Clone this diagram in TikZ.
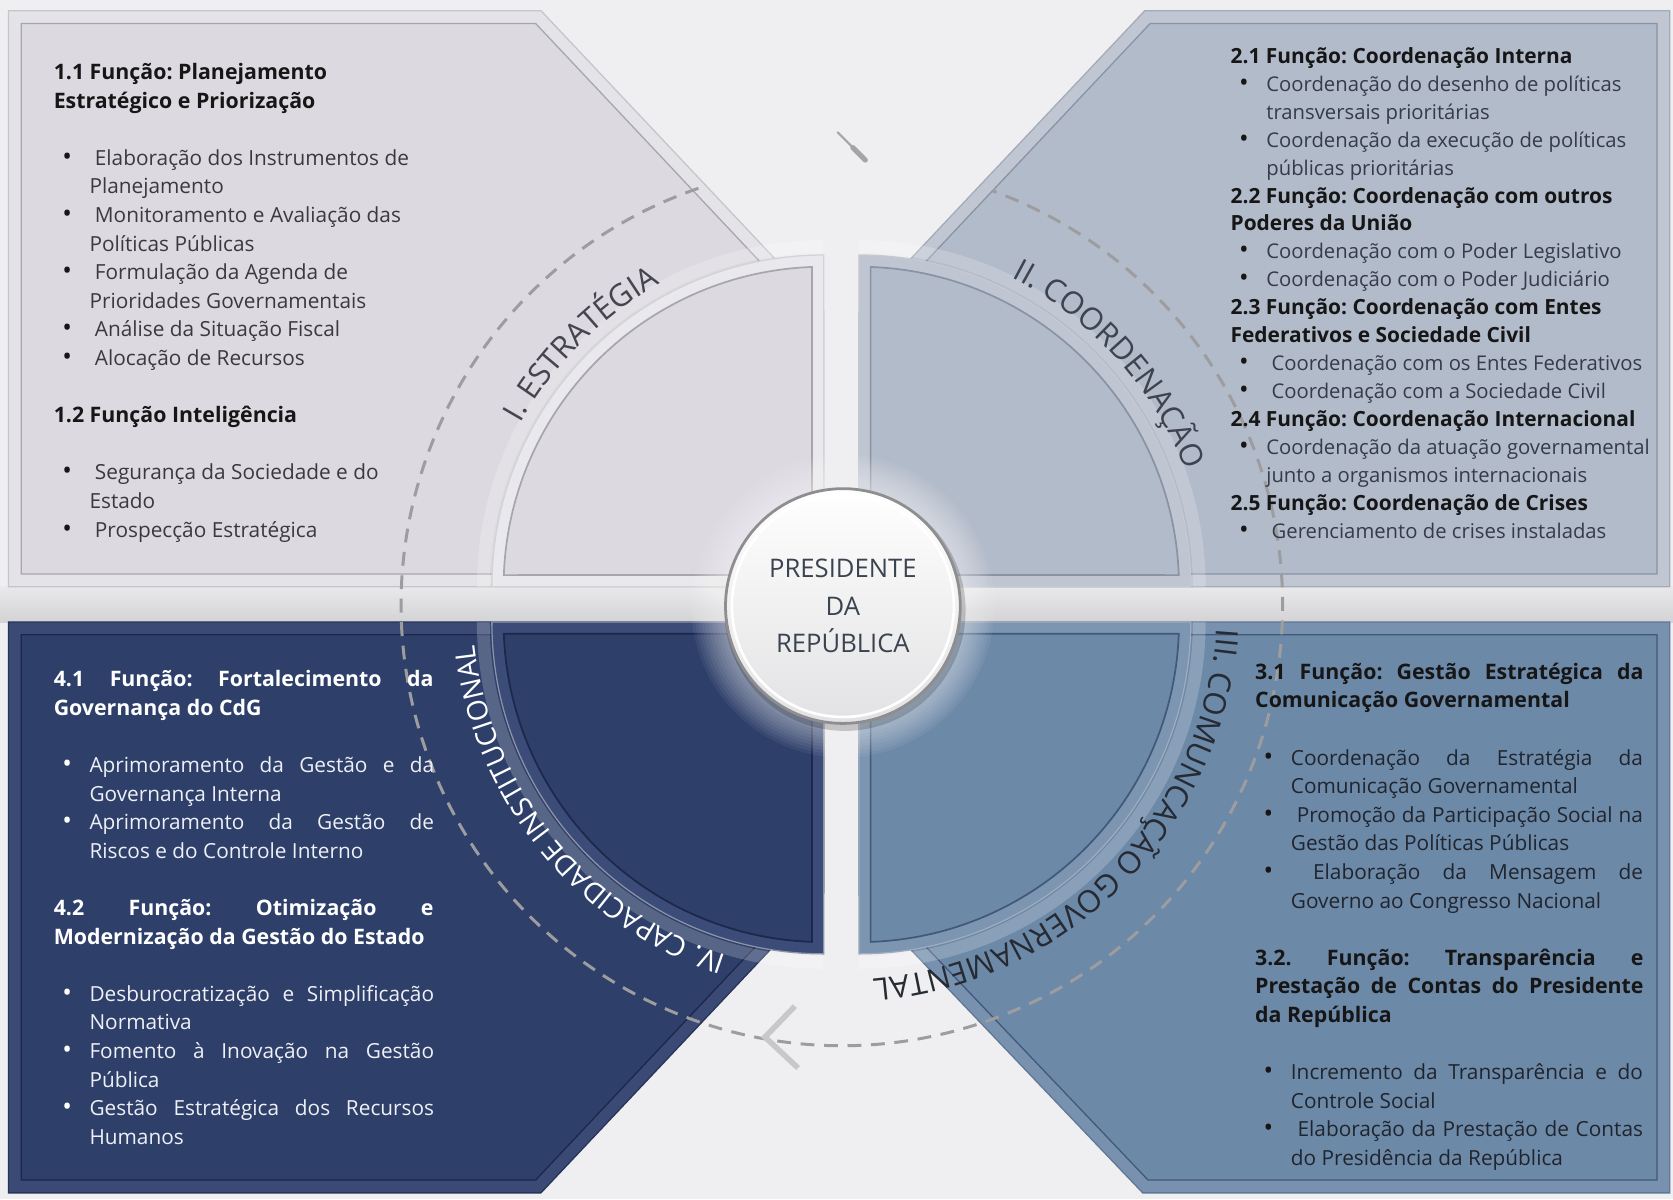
\documentclass[tikz,border=0pt]{standalone}
\usepackage{fontspec}
\setmainfont{Open Sans}
\usetikzlibrary{calc,decorations.text}
\frenchspacing

\definecolor{fundo}{HTML}{EFEEF0}
\definecolor{faixaA}{HTML}{E9E9EB}
\definecolor{faixaB}{HTML}{D3D3D6}
\definecolor{molduraTL}{HTML}{E4E3E7}
\definecolor{contornoTL}{HTML}{C6C5CA}
\definecolor{fundoTL}{HTML}{DCD9E0}
\definecolor{linhaTL}{HTML}{A8A6AD}
\definecolor{anelTL}{HTML}{E9E8EC}
\definecolor{molduraTR}{HTML}{C0C7D3}
\definecolor{contornoTR}{HTML}{A3ABBA}
\definecolor{fundoTR}{HTML}{B2BBCA}
\definecolor{linhaTR}{HTML}{8A93A4}
\definecolor{anelTR}{HTML}{BFC6D2}
\definecolor{molduraBR}{HTML}{7891AE}
\definecolor{contornoBR}{HTML}{5E7896}
\definecolor{fundoBR}{HTML}{6D89A8}
\definecolor{linhaBR}{HTML}{41587A}
\definecolor{anelBR}{HTML}{7C95B1}
\definecolor{molduraBL}{HTML}{3A4A74}
\definecolor{contornoBL}{HTML}{26345A}
\definecolor{fundoBL}{HTML}{2E3F6A}
\definecolor{linhaBL}{HTML}{1C274A}
\definecolor{anelBL}{HTML}{3B4C78}
\definecolor{traco}{HTML}{9D9DA0}
\definecolor{seta}{HTML}{C8C8CA}
\definecolor{risco}{HTML}{A5A5A8}
\definecolor{titulo}{HTML}{161616}
\definecolor{textoTL}{HTML}{3A3A3E}
\definecolor{textoTR}{HTML}{363C47}
\definecolor{textoBR}{HTML}{20252D}
\definecolor{textoBL}{HTML}{EEF0F5}
\definecolor{rotuloI}{HTML}{45454D}
\definecolor{rotuloII}{HTML}{3E434E}
\definecolor{rotuloIII}{HTML}{252A33}
\definecolor{aro}{HTML}{8E8E90}
\definecolor{botao}{HTML}{E2E2E4}
\definecolor{textoMeio}{HTML}{3B4350}

\newcommand{\tamtit}{10}
\newcommand{\cormarca}{titulo}
\newcommand{\marca}{\makebox[16.75pt][l]{\hspace{4pt}{\fontsize{12}{0}\selectfont\color{\cormarca}\textbullet}}}
\newcommand{\recuo}{\hspace*{16.75pt}}
\newcommand{\just}[2]{\makebox[#1][s]{#2}}
\newcommand{\tit}[1]{{\fontsize{\tamtit}{\baselineskip}\selectfont\bfseries\color{titulo}#1}}
\newcommand{\titb}[1]{{\fontsize{\tamtit}{\baselineskip}\selectfont\bfseries\color{white}#1}}
\newcommand{\curvo}{\fontsize{14.5}{14.5}\selectfont}

\begin{document}
\begin{tikzpicture}[x=0.5pt, y=0.5pt,
    painel/.style={line width=0.6pt},
    tracejado/.style={draw=traco, line width=1.4pt, dash pattern=on 6.5pt off 4.5pt},
    corpo/.style={anchor=north west, inner sep=0pt, align=left, font=\fontsize{9.75}{13.4}\selectfont},
    curva/.style={decorate, decoration={text along path, text align=center, text color=#1}}
  ]

% background, also fixes the margins
\fill[fundo] (-789,-557) rectangle (779,567);
\useasboundingbox (-789,-557) rectangle (779,567);

% gap between upper and lower row
\shade[top color=faixaA, bottom color=faixaB] (-789,17) rectangle (779,-16);

% the four panels (frame, then inner face)
\filldraw[fill=molduraTL, draw=contornoTL, painel] (-781,557) -- (-282,557) -- (-17,276) -- (-17,17) -- (-781,17) -- cycle;
\filldraw[fill=fundoTL, draw=linhaTL, painel] (-769,545) -- (-287,545) -- (-29,271) -- (-29,29) -- (-769,29) -- cycle;

\filldraw[fill=molduraTR, draw=contornoTR, painel] (284,557) -- (776,557) -- (776,17) -- (16,17) -- (16,273) -- cycle;
\filldraw[fill=fundoTR, draw=linhaTR, painel] (289,545) -- (764,545) -- (764,29) -- (28,29) -- (28,268) -- cycle;

\filldraw[fill=molduraBR, draw=contornoBR, painel] (16,-16) -- (776,-16) -- (776,-551) -- (282,-551) -- (16,-272) -- cycle;
\filldraw[fill=fundoBR, draw=linhaBR, painel] (28,-28) -- (764,-28) -- (764,-539) -- (287,-539) -- (28,-267) -- cycle;

\filldraw[fill=molduraBL, draw=contornoBL, painel] (-781,-16) -- (-17,-16) -- (-17,-270) -- (-282,-551) -- (-781,-551) -- cycle;
\filldraw[fill=fundoBL, draw=linhaBL, painel] (-769,-28) -- (-29,-28) -- (-29,-265) -- (-287,-539) -- (-769,-539) -- cycle;

% quarter discs round the centre
\coordinate (cTL) at (-17,17);
\coordinate (cTR) at (16,17);
\coordinate (cBR) at (16,-16);
\coordinate (cBL) at (-17,-16);
\foreach \centro/\ang/\anel/\cor/\borda in {cTL/180/anelTL/fundoTL/linhaTL, cTR/90/anelTR/fundoTR/linhaTR,
    cBR/0/anelBR/fundoBR/linhaBR, cBL/270/anelBL/fundoBL/linhaBL}
{
  \draw[white, opacity=.2, line width=6pt] ($(\centro)+(\ang:319)$) arc[start angle=\ang, delta angle=-90, radius=319];
  \filldraw[fill=\anel, draw=\borda!50, painel] (\centro) -- ++(\ang:311) arc[start angle=\ang, delta angle=-90, radius=311] -- cycle;
  \filldraw[fill=\cor, draw=\borda, line width=.8pt] ($(\centro)+(\ang-45:15.56)$) -- ($(\centro)+(\ang-2.1:300)$)
    arc[start angle=\ang-2.1, end angle=\ang-87.9, radius=300] -- cycle;
}

% dashed cycle with its arrow
\draw[tracejado] (109:413) arc[start angle=109, end angle=430, radius=413];
\coordinate (ponta) at (-72,-405);
\coordinate (abaA) at (-44,-376);
\coordinate (abaB) at (-41,-434);
\draw[seta, line width=2.6pt] (abaA) -- (ponta) -- (abaB);
\coordinate (riscoA) at (-4,443);
\coordinate (riscoB) at (22,417);
\draw[risco, line width=1pt, line cap=round] (riscoA) -- (riscoB);
\draw[risco, line width=2.4pt, line cap=round] ($(riscoA)!.55!(riscoB)$) -- (riscoB);

% curved titles
\path[curva=rotuloI, decoration={text={|\curvo|I. ESTRATÉGIA}}] (185:346) arc[start angle=185, end angle=85, radius=346];
\path[curva=rotuloII, decoration={text={|\curvo|II. COORDENAÇÃO}}] (92:346) arc[start angle=92, end angle=-8, radius=346];
\path[curva=rotuloIII, decoration={text={|\curvo|III. COMUNCAÇÃO GOVERNAMENTAL}}] (5.5:352) arc[start angle=5.5, end angle=-94.5, radius=352];
\path[curva=white, decoration={text={|\fontsize{13.2}{13.2}\selectfont|IV. CAPACIDADE INSTITUCIONAL}}] (269:346) arc[start angle=269, end angle=169, radius=346];

% centre button
\coordinate (meio) at (1,-1);
\foreach \r in {142,139,...,114} \fill[white, opacity=.055] (meio) circle (\r);
\fill[black, opacity=.18] ($(meio)+(2,-4)$) circle (113);
\node[circle, minimum size=110pt, inner sep=0pt, draw=aro, line width=1.3pt, top color=white, bottom color=botao,
  align=center, text=textoMeio, font=\fontsize{12}{17.5}\selectfont] (presidente) at (meio) {PRESIDENTE\\DA\\REPÚBLICA};
\draw[white, line width=1.2pt] (meio) circle (104);

% panel texts
\node[corpo, text=textoTL] (estrategia) at (-739,508) {%
\tit{1.1 Função: Planejamento}\\
\tit{Estratégico e Priorização}\\[13.4pt]
\marca\ Elaboração dos Instrumentos de\\
\recuo Planejamento\\
\marca\ Monitoramento e Avaliação das\\
\recuo Políticas Públicas\\
\marca\ Formulação da Agenda de\\
\recuo Prioridades Governamentais\\
\marca\ Análise da Situação Fiscal\\
\marca\ Alocação de Recursos\\[13.4pt]
\tit{1.2 Função Inteligência}\\[13.4pt]
\marca\ Segurança da Sociedade e do\\
\recuo Estado\\
\marca\ Prospecção Estratégica};

\node[corpo, text=textoTR, font=\fontsize{9.5}{13.1}\selectfont\def\tamtit{9.8}] (coordenacao) at (364,523) {%
\tit{2.1 Função: Coordenação Interna}\\
\marca Coordenação do desenho de políticas\\
\recuo transversais prioritárias\\
\marca Coordenação da execução de políticas\\
\recuo públicas prioritárias\\
\tit{2.2 Função: Coordenação com outros}\\
\tit{Poderes da União}\\
\marca Coordenação com o Poder Legislativo\\
\marca Coordenação com o Poder Judiciário\\
\tit{2.3 Função: Coordenação com Entes}\\
\tit{Federativos e Sociedade Civil}\\
\marca\ Coordenação com os Entes Federativos\\
\marca\ Coordenação com a Sociedade Civil\\
\tit{2.4 Função: Coordenação Internacional}\\
\marca Coordenação da atuação governamental\\
\recuo junto a organismos internacionais\\
\tit{2.5 Função: Coordenação de Crises}\\
\marca\ Gerenciamento de crises instaladas};

\node[corpo, text=textoBR] (comunicacao) at (387,-54) {%
\tit{\just{182pt}{3.1 Função: Gestão Estratégica da}}\\
\tit{Comunicação Governamental}\\[13.4pt]
\marca\just{165pt}{Coordenação da Estratégia da}\\
\recuo Comunicação Governamental\\
\marca\just{165pt}{\ Promoção da Participação Social na}\\
\recuo Gestão das Políticas Públicas\\
\marca\just{165pt}{\ Elaboração da Mensagem de}\\
\recuo Governo ao Congresso Nacional\\[13.4pt]
\tit{\just{182pt}{3.2. Função: Transparência e}}\\
\tit{\just{182pt}{Prestação de Contas do Presidente}}\\
\tit{da República}\\[13.4pt]
\marca\just{165pt}{Incremento da Transparência e do}\\
\recuo Controle Social\\
\marca\just{165pt}{\ Elaboração da Prestação de Contas}\\
\recuo do Presidência da República};

\node[corpo, text=textoBL, font=\fontsize{9.75}{13.4}\selectfont\def\cormarca{white}] (capacidade) at (-739,-61) {%
\titb{\just{178pt}{4.1 Função: Fortalecimento da}}\\
\titb{Governança do CdG}\\[13.4pt]
\marca\just{161.5pt}{Aprimoramento da Gestão e da}\\
\recuo Governança Interna\\
\marca\just{161.5pt}{Aprimoramento da Gestão de}\\
\recuo Riscos e do Controle Interno\\[13.4pt]
\titb{\just{178pt}{4.2 Função: Otimização e}}\\
\titb{Modernização da Gestão do Estado}\\[13.4pt]
\marca\just{161.5pt}{Desburocratização e Simplificação}\\
\recuo Normativa\\
\marca\just{161.5pt}{Fomento à Inovação na Gestão}\\
\recuo Pública\\
\marca\just{161.5pt}{Gestão Estratégica dos Recursos}\\
\recuo Humanos};

\end{tikzpicture}
\end{document}
